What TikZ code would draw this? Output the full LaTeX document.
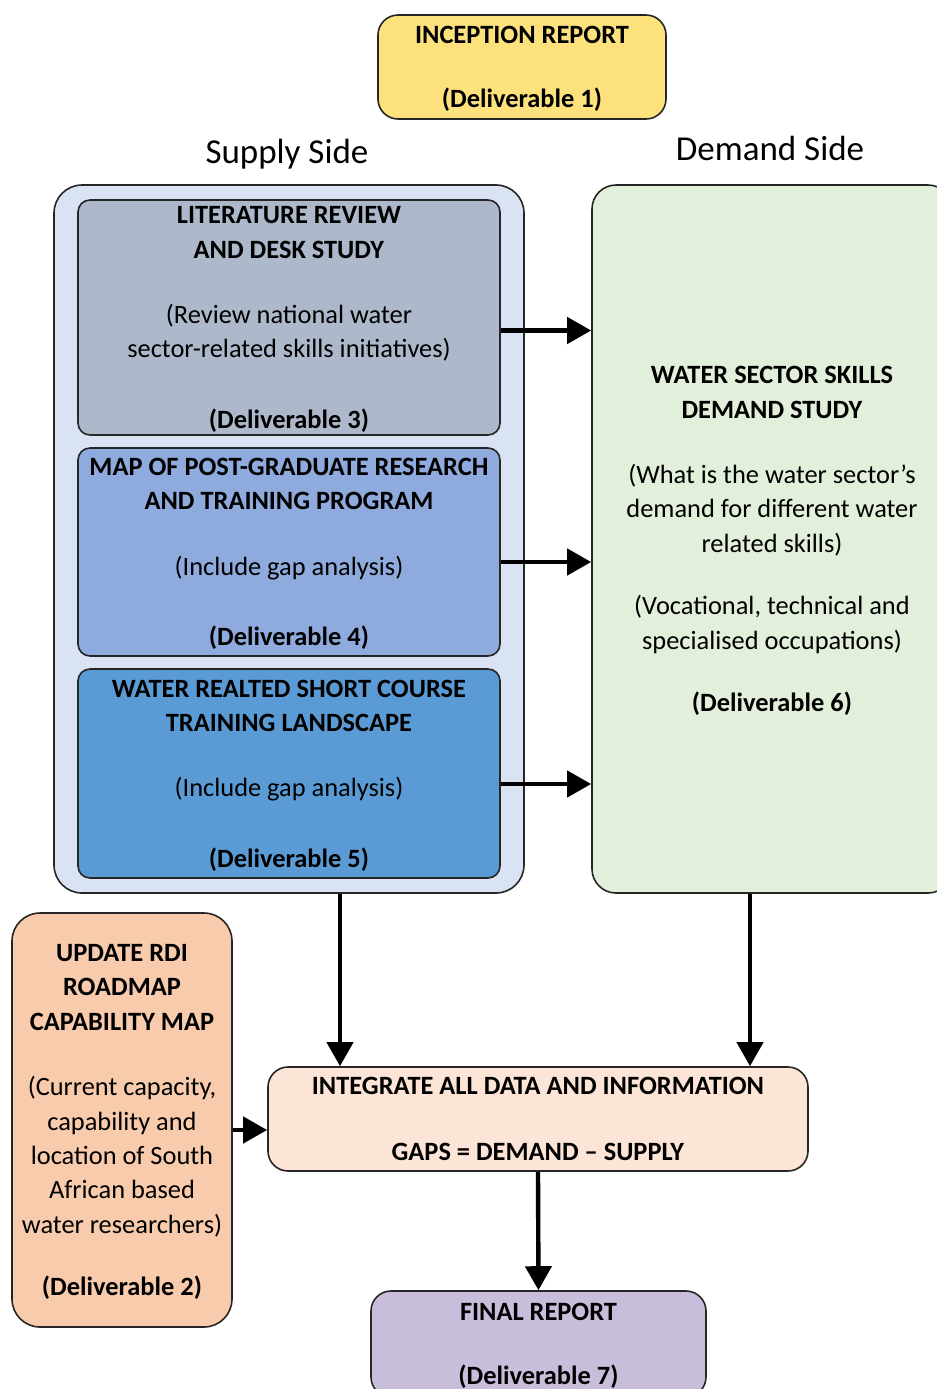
\documentclass[tikz,border=0pt]{standalone}
\usepackage{fontspec}
\setmainfont{Carlito}
\usetikzlibrary{arrows.meta,calc}
\definecolor{cIncep}{HTML}{FCE17C}
\definecolor{cSupply}{HTML}{DAE3F3}
\definecolor{cLit}{HTML}{ADB9CA}
\definecolor{cMap}{HTML}{8FAADC}
\definecolor{cShort}{HTML}{5B9BD5}
\definecolor{cDemand}{HTML}{E2EFDA}
\definecolor{cRdi}{HTML}{F8CBAD}
\definecolor{cInt}{HTML}{FCE4D6}
\definecolor{cFinal}{HTML}{C8BDDA}
\begin{document}
\begin{tikzpicture}[x=0.5pt,y=-0.5pt,
  box/.style={draw=black!85, line width=0.8pt, rounded corners=6pt, align=center, inner sep=0pt,
    text depth=-1.4pt, font=\fontsize{13.2}{17.2}\selectfont},
  arr/.style={line width=2.2pt, -{Triangle[width=13pt,length=12pt]}},
  side/.style={font=\fontsize{17.5}{20}\selectfont}]
\path[use as bounding box, clip] (0,0) rectangle (937,1389);

\node[box, fill=cIncep, rounded corners=10pt, minimum width=144pt, minimum height=52pt] (inc) at (522,67)
  {\textbf{INCEPTION REPORT}\\[15pt]\textbf{(Deliverable 1)}};

\node[side] (supt) at (287,154) {Supply Side};
\node[side] (demt) at (770,148) {Demand Side};

\node[box, fill=cSupply, rounded corners=14pt, minimum width=235pt, minimum height=354pt] (sup) at (289,539) {};

\node[box, fill=cLit, minimum width=211pt, minimum height=117.5pt] (lit) at (289,317.5)
  {\textbf{LITERATURE REVIEW}\\\textbf{AND DESK STUDY}\\[15.5pt](Review national water\\sector-related skills initiatives)\\[18pt]\textbf{(Deliverable 3)}};

\node[box, fill=cMap, minimum width=211pt, minimum height=104pt] (map) at (289,552)
  {\textbf{MAP OF POST-GRADUATE RESEARCH}\\\textbf{AND TRAINING PROGRAM}\\[15.5pt](Include gap analysis)\\[18pt]\textbf{(Deliverable 4)}};

\node[box, fill=cShort, minimum width=211pt, minimum height=104.5pt] (short) at (289,773.5)
  {\textbf{WATER REALTED SHORT COURSE}\\\textbf{TRAINING LANDSCAPE}\\[15.5pt](Include gap analysis)\\[18pt]\textbf{(Deliverable 5)}};

\node[box, fill=cDemand, rounded corners=12pt, minimum width=180pt, minimum height=354pt] (dem) at (772,539)
  {\textbf{WATER SECTOR SKILLS}\\\textbf{DEMAND STUDY}\\[15.5pt](What is the water sector’s\\demand for different water\\related skills)\\[14pt](Vocational, technical and\\specialised occupations)\\[14pt]\textbf{(Deliverable 6)}};

\node[box, fill=cRdi, rounded corners=14pt, minimum width=110pt, minimum height=207pt] (rdi) at (122,1120)
  {\textbf{UPDATE RDI}\\\textbf{ROADMAP}\\\textbf{CAPABILITY MAP}\\[15.5pt](Current capacity,\\capability and\\location of South\\African based\\water researchers)\\[14pt]\textbf{(Deliverable 2)}};

\node[box, fill=cInt, rounded corners=10pt, minimum width=270pt, minimum height=52pt] (int) at (538,1119)
  {\textbf{INTEGRATE ALL DATA AND INFORMATION}\\[15.5pt]\textbf{GAPS = DEMAND – SUPPLY}};

\node[box, fill=cFinal, rounded corners=10pt, minimum width=167.5pt, minimum height=53pt] (fin) at (538.5,1344)
  {\textbf{FINAL REPORT}\\[15pt]\textbf{(Deliverable 7)}};

\draw[arr] ([yshift=-6.5pt]lit.east) -- ([yshift=-6.5pt]lit.east -| dem.west);
\draw[arr] ([yshift=-5pt]map.east) -- ([yshift=-5pt]map.east -| dem.west);
\draw[arr] ([yshift=-5.25pt]short.east) -- ([yshift=-5.25pt]short.east -| dem.west);
\draw[arr] ([xshift=25.5pt]sup.south) -- ([xshift=25.5pt]sup.south |- int.north);
\draw[arr] ([xshift=-11pt]dem.south) -- ([xshift=-11pt]dem.south |- int.north);
\draw[arr] ([yshift=-5pt]rdi.east) -- ([yshift=-5pt]rdi.east -| int.west);
\draw[arr] (int.south) -- (fin.north);
\end{tikzpicture}
\end{document}
